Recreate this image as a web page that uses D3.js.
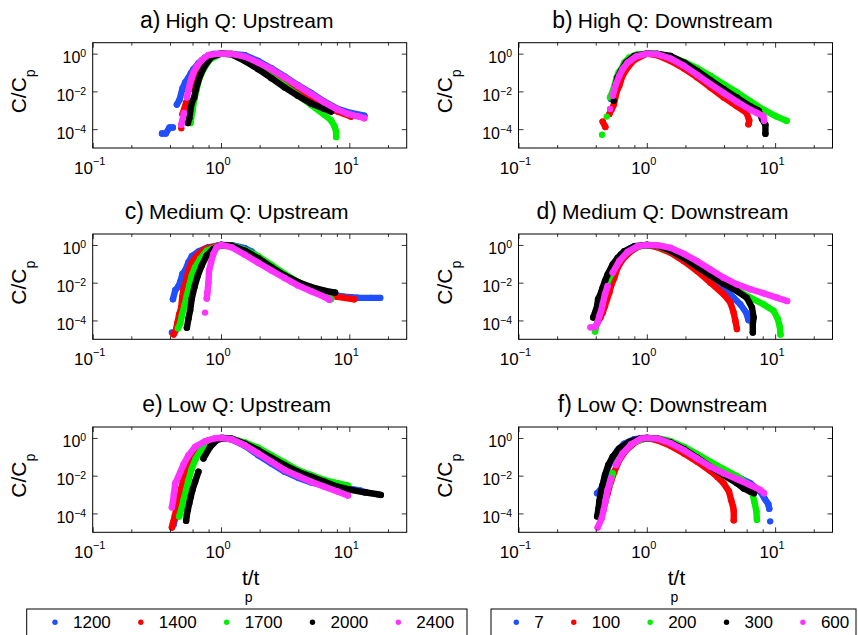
<!DOCTYPE html>
<html>
<head>
<meta charset="utf-8">
<script src="https://cdn.jsdelivr.net/npm/d3@7"></script>
<style>
body { margin: 0; background: #fff; }
svg { display: block; font-family: "Liberation Sans", Arial, Helvetica, sans-serif; }
</style>
</head>
<body>
<svg id="chart" width="858" height="635"></svg>
<script>
// legend labels and colours (plot order: blue, red, green, black, magenta)
var upLabels = [1200, 1400, 1700, 2000, 2400];
var downLabels = [7, 100, 200, 300, 600];
var seriesColors = ['#1f4fff', '#ff0000', '#00ee00', '#000000', '#ff33ff'];

var panelTags = ['a)', 'b)', 'c)', 'd)', 'e)', 'f)'];
var panelNames = ['High Q: Upstream', 'High Q: Downstream', 'Medium Q: Upstream',
                  'Medium Q: Downstream', 'Low Q: Upstream', 'Low Q: Downstream'];

var xMajor = [0.1, 1, 10];
var xMinor = [0.2, 0.4, 0.6, 0.8, 2, 4, 6, 8, 20];
var xExp = ['\u22121', '0', '1'];
var yMajor = [1e-4, 1e-2, 1];
var yExp = ['\u22124', '\u22122', '0'];

// a) High Q upstream  [t/tp, C/Cp]
var highUp1200 = [[0.347,5.9e-5],[0.372,5.9e-5],[0.397,1.23e-4],[0.421,1.23e-4],[0.453,0.002],[0.475,0.0036],[0.501,0.0144],[0.526,0.0298],[0.552,0.048],[0.582,0.092],[0.61,0.15],[0.667,0.31],[0.751,0.62],[0.872,0.97],[1.0,1.0],[1.21,0.97],[1.535,0.82],[1.95,0.41],[2.47,0.169],[3.13,0.062],[3.97,0.0216],[5.04,0.0082],[6.4,0.00286],[8.1,0.00118],[10.3,7.2e-4],[13.1,5.2e-4]];
var highUp1400 = [[0.49,1.1e-4],[0.501,6.2e-4],[0.535,0.0026],[0.575,0.0133],[0.61,0.036],[0.636,0.072],[0.675,0.162],[0.751,0.43],[0.872,0.85],[1.0,1.0],[1.21,0.97],[1.535,0.59],[1.95,0.243],[2.47,0.082],[3.13,0.0243],[3.97,0.0082],[5.04,0.0032],[6.4,0.00156],[8.1,8.5e-4],[10.3,4.6e-4]];
var highUp1700 = [[0.579,2.1e-4],[0.599,9.6e-4],[0.621,0.004],[0.647,0.0133],[0.675,0.0446],[0.73,0.15],[0.822,0.5],[1.0,1.0],[1.21,0.92],[1.535,0.43],[1.95,0.162],[2.47,0.057],[3.13,0.0199],[3.97,0.0064],[5.04,0.0019],[6.4,5.7e-4],[7.21,2.9e-4],[7.66,1.44e-4],[7.9,6.9e-5],[7.9,3.8e-5]];
var highUp2000 = [[0.552,2.1e-4],[0.566,3.8e-4],[0.582,0.00144],[0.596,0.00286],[0.618,0.0048],[0.636,0.0122],[0.66,0.0298],[0.688,0.072],[0.751,0.243],[0.847,0.695],[1.0,1.0],[1.21,0.92],[1.535,0.41],[1.95,0.15],[2.47,0.05],[3.13,0.0163],[3.97,0.0059],[5.04,0.0023],[6.4,0.00118],[7.21,8.5e-4]];
var highUp2400 = [[0.49,1.7e-4],[0.514,7.2e-4],[0.542,0.0048],[0.558,0.0117],[0.575,0.0298],[0.592,0.055],[0.61,0.1],[0.647,0.207],[0.708,0.46],[0.798,0.85],[0.98,1.0],[1.21,0.96],[1.535,0.695],[1.95,0.336],[2.47,0.15],[3.13,0.055],[3.97,0.0199],[5.04,0.0072],[6.4,0.0026],[8.1,0.00108],[9.75,6.4e-4],[11.6,4.8e-4],[13.1,3.8e-4]];

// b) High Q downstream
var highDown7 = [[0.526,0.004],[0.558,0.0133],[0.592,0.0446],[0.647,0.15],[0.73,0.41],[0.847,0.82],[1.0,1.0],[1.21,0.96],[1.535,0.59],[1.95,0.243],[2.47,0.082],[3.13,0.0243],[3.97,0.0072],[4.6,0.0026],[5.35,0.0015],[6.4,0.00108]];
var highDown100 = [[0.453,2.5e-4],[0.475,1.3e-4],[0.511,6.4e-4],[0.535,0.00118],[0.555,0.0021],[0.582,0.0096],[0.61,0.0199],[0.647,0.0668],[0.708,0.183],[0.798,0.46],[1.0,1.0],[1.21,0.82],[1.535,0.41],[1.95,0.162],[2.47,0.055],[3.13,0.0163],[3.97,0.0048],[5.04,0.00162],[6.0,7.2e-4],[6.28,2.9e-4],[6.2,1.8e-4]];
var highDown200 = [[0.448,5e-5],[0.487,4.6e-4],[0.517,0.0048],[0.552,0.0144],[0.582,0.055],[0.603,0.1],[0.636,0.162],[0.667,0.336],[0.73,0.62],[0.847,0.92],[1.0,1.0],[1.21,0.97],[1.535,0.695],[1.95,0.365],[2.47,0.169],[3.13,0.0668],[3.97,0.0243],[5.04,0.0089],[6.4,0.003],[8.1,0.00108],[10.3,4.6e-4],[12.3,2.8e-4]];
var highDown300 = [[0.552,0.0032],[0.569,0.0199],[0.592,0.055],[0.628,0.122],[0.688,0.336],[0.798,0.75],[1.0,1.0],[1.21,0.97],[1.535,0.75],[1.95,0.336],[2.47,0.122],[3.13,0.039],[3.97,0.0133],[5.04,0.0047],[6.4,0.00162],[7.44,9.6e-4],[7.9,3.5e-4],[8.4,1.7e-4],[8.4,5.7e-5]];
var highDown600 = [[0.517,0.00118],[0.542,0.0059],[0.575,0.0243],[0.61,0.0668],[0.647,0.15],[0.708,0.336],[0.822,0.695],[1.0,1.0],[1.21,0.92],[1.535,0.545],[1.95,0.224],[2.47,0.075],[3.13,0.0243],[3.97,0.0082],[5.04,0.00286],[6.4,0.00108],[7.21,7.2e-4],[8.1,4.8e-4],[8.2,2.8e-4]];

// c) Medium Q upstream
var medUp1200 = [[0.414,2.3e-5],[0.422,0.00133],[0.44,0.004],[0.462,0.0059],[0.481,0.0109],[0.501,0.0298],[0.526,0.0446],[0.558,0.122],[0.592,0.253],[0.667,0.446],[0.798,0.75],[1.0,1.0],[1.21,0.97],[1.535,0.67],[1.73,0.446],[1.95,0.233],[2.33,0.089],[2.78,0.032],[3.53,0.0117],[4.48,0.0057],[5.69,0.0032],[7.21,0.0023],[9.15,0.00183],[11.6,0.0016],[14.7,0.00157],[17.4,0.00157]];
var medUp1400 = [[0.427,1.8e-5],[0.446,3.2e-5],[0.456,6.9e-5],[0.472,2.1e-4],[0.488,4.3e-4],[0.499,0.00177],[0.511,0.0048],[0.535,0.0133],[0.558,0.0446],[0.592,0.122],[0.647,0.275],[0.751,0.62],[1.0,1.0],[1.21,0.92],[1.535,0.5],[1.95,0.198],[2.47,0.0668],[3.13,0.0216],[3.97,0.0089],[5.04,0.0044],[6.4,0.0026],[8.1,0.00177],[10.9,0.00133]];
var medUp1700 = [[0.462,3.8e-5],[0.481,6.9e-5],[0.495,1.76e-4],[0.52,6.4e-4],[0.542,0.0021],[0.566,0.0072],[0.592,0.0243],[0.628,0.0668],[0.688,0.183],[0.774,0.5],[1.0,1.0],[1.21,0.92],[1.535,0.545],[1.95,0.253],[2.47,0.0886],[3.13,0.0298],[3.97,0.0109],[5.04,0.0048],[6.4,0.0021],[7.21,0.00133]];
var medUp2000 = [[0.542,4.1e-5],[0.558,1.27e-4],[0.575,3.5e-4],[0.592,0.00144],[0.621,0.0059],[0.66,0.0243],[0.708,0.082],[0.774,0.275],[0.872,0.62],[1.0,1.0],[1.21,0.92],[1.535,0.5],[1.95,0.198],[2.47,0.0668],[3.13,0.0243],[3.97,0.0109],[5.04,0.0059],[6.4,0.0038],[7.75,0.003]];
var medUp2400 = [[0.751,2.6e-4],[0.774,0.00144],[0.783,0.00286],[0.798,0.01],[0.807,0.0446],[0.837,0.122],[0.872,0.336],[0.926,0.75],[1.0,1.0],[1.21,0.75],[1.535,0.3],[1.95,0.113],[2.47,0.0446],[3.13,0.0176],[3.97,0.0072],[5.04,0.0035],[6.4,0.00177],[6.98,0.00126]];

// d) Medium Q downstream
var medDown7 = [[0.414,4.8e-4],[0.44,0.00243],[0.481,0.0122],[0.542,0.075],[0.628,0.31],[0.751,0.695],[1.0,1.0],[1.21,0.85],[1.535,0.46],[1.95,0.19],[2.47,0.062],[3.13,0.02],[3.97,0.0059],[4.74,0.00162],[5.35,7.2e-4],[5.95,2.6e-4],[6.2,1.04e-4]];
var medDown100 = [[0.414,7.9e-5],[0.435,1.44e-4],[0.453,2.6e-4],[0.472,5.9e-4],[0.49,0.00133],[0.511,0.003],[0.526,0.0067],[0.558,0.0183],[0.592,0.062],[0.647,0.169],[0.751,0.46],[0.872,0.85],[1.0,1.0],[1.21,0.75],[1.535,0.38],[1.95,0.138],[2.47,0.041],[3.13,0.01],[3.97,0.00243],[4.48,8.9e-4],[4.75,2.6e-4],[4.9,9.6e-5],[5.04,3.5e-5]];
var medDown200 = [[0.395,2.6e-5],[0.407,6.4e-5],[0.427,3.2e-4],[0.453,0.00162],[0.481,0.0067],[0.526,0.0275],[0.592,0.113],[0.667,0.31],[0.798,0.75],[1.0,1.0],[1.21,0.89],[1.535,0.5],[1.95,0.207],[2.47,0.075],[3.13,0.0275],[3.97,0.01],[5.04,0.004],[6.4,0.00162],[8.1,7.2e-4],[9.75,3.2e-4],[10.5,1.18e-4],[10.9,4.3e-5],[11.0,1.8e-5]];
var medDown300 = [[0.382,1.44e-4],[0.395,2.6e-4],[0.41,5.9e-4],[0.417,0.00133],[0.44,0.003],[0.453,0.0055],[0.472,0.0122],[0.495,0.0275],[0.542,0.092],[0.592,0.207],[0.667,0.46],[0.798,0.85],[1.0,1.0],[1.21,0.92],[1.535,0.5],[1.95,0.207],[2.47,0.07],[3.13,0.0243],[3.97,0.0089],[5.04,0.0036],[6.0,0.00162],[6.6,4.8e-4],[6.8,1.44e-4],[6.7,6.4e-5],[6.7,2.3e-5]];
var medDown600 = [[0.364,4.3e-5],[0.395,4.3e-5],[0.414,7.9e-5],[0.427,1.76e-4],[0.44,3.2e-4],[0.453,7.2e-4],[0.472,0.00243],[0.495,0.0067],[0.542,0.0336],[0.61,0.138],[0.708,0.43],[0.847,0.85],[1.0,1.0],[1.21,0.97],[1.535,0.695],[1.95,0.336],[2.47,0.138],[3.13,0.05],[3.97,0.0183],[5.04,0.0082],[6.4,0.0045],[8.1,0.00275],[10.3,0.00162],[12.4,0.00108]];

// e) Low Q upstream
var lowUp1200 = [[0.427,2.5e-5],[0.44,5.7e-5],[0.462,2.3e-4],[0.481,7.9e-4],[0.511,0.004],[0.542,0.0163],[0.592,0.082],[0.667,0.275],[0.798,0.67],[1.0,1.0],[1.21,0.85],[1.535,0.38],[1.95,0.122],[2.47,0.0446],[3.13,0.0163],[3.97,0.0079],[5.04,0.0044],[6.4,0.003],[8.1,0.00234],[10.3,0.002],[12.3,0.0016],[13.5,0.00133]];
var lowUp1400 = [[0.414,1.8e-5],[0.422,3.1e-5],[0.435,6.9e-5],[0.453,2.3e-4],[0.472,6.4e-4],[0.49,0.0021],[0.511,0.0072],[0.535,0.0199],[0.558,0.055],[0.592,0.122],[0.667,0.336],[0.798,0.75],[1.0,1.0],[1.21,0.85],[1.535,0.446],[1.95,0.183],[2.47,0.075],[3.13,0.0298],[3.97,0.0133],[5.04,0.0067],[6.4,0.004],[8.1,0.00234],[10.0,0.00177]];
var lowUp1700 = [[0.472,6.9e-5],[0.49,1.6e-4],[0.511,5.2e-4],[0.535,0.00177],[0.558,0.0059],[0.592,0.0243],[0.636,0.082],[0.708,0.253],[0.822,0.62],[1.0,1.0],[1.21,0.92],[1.535,0.57],[1.95,0.3],[2.47,0.122],[3.13,0.05],[3.97,0.0199],[5.04,0.0109],[6.4,0.0059],[8.1,0.004],[9.75,0.003]];
var lowUp2000 = [[0.535,4.1e-5],[0.542,8.5e-5],[0.552,1.6e-4],[0.566,3.5e-4],[0.582,7.9e-4],[0.599,0.00177],[0.628,0.0048],[0.667,0.0163],[0.73,0.082],[0.822,0.336],[0.926,0.75],[1.04,1.0],[1.21,0.92],[1.535,0.5],[1.95,0.224],[2.47,0.089],[3.13,0.0365],[3.97,0.0163],[5.04,0.0089],[6.4,0.0048],[8.1,0.0026],[10.3,0.00177],[13.1,0.00132],[16.6,0.00104],[17.6,9.6e-4]];
var lowUp2400 = [[0.414,2.1e-4],[0.422,4.3e-4],[0.43,0.00118],[0.44,0.004],[0.462,0.0079],[0.481,0.015],[0.511,0.04],[0.558,0.122],[0.628,0.336],[0.751,0.67],[0.898,0.97],[1.0,1.0],[1.21,0.85],[1.535,0.41],[1.95,0.15],[2.47,0.055],[3.13,0.0199],[3.97,0.0096],[5.04,0.0048],[6.4,0.0026],[8.1,0.00144],[9.75,8.9e-4]];

// f) Low Q downstream
var lowDown7 = [[0.41,0.00118],[0.435,0.00177],[0.453,0.0032],[0.472,0.0089],[0.495,0.0243],[0.542,0.082],[0.592,0.224],[0.667,0.5],[0.798,0.85],[1.0,1.0],[1.21,0.92],[1.535,0.57],[1.95,0.275],[2.47,0.122],[3.13,0.05],[3.97,0.0199],[5.04,0.0089],[6.4,0.004],[7.66,0.00144],[8.3,5.9e-4],[8.85,3.1e-4],[9.0,1.76e-4],[9.15,3.8e-5]];
var lowDown100 = [[0.453,1.27e-4],[0.472,3.5e-4],[0.495,0.00118],[0.526,0.0048],[0.558,0.0163],[0.61,0.0668],[0.688,0.224],[0.822,0.62],[1.0,1.0],[1.21,0.75],[1.535,0.38],[1.95,0.15],[2.47,0.055],[3.13,0.0176],[3.53,0.0089],[3.97,0.004],[4.37,0.00144],[4.54,5.2e-4],[4.7,2.3e-4],[4.76,1.4e-4],[4.76,4.3e-5]];
var lowDown200 = [[0.44,6.9e-5],[0.462,2.3e-4],[0.481,6.9e-4],[0.511,0.0032],[0.542,0.0133],[0.592,0.0668],[0.667,0.224],[0.798,0.62],[1.0,1.0],[1.21,0.97],[1.535,0.67],[1.95,0.336],[2.47,0.138],[3.13,0.055],[3.97,0.0224],[5.04,0.0096],[6.0,0.004],[6.6,0.00144],[6.88,4.3e-4],[7.15,1.27e-4],[7.21,4.6e-5]];
var lowDown300 = [[0.41,6.9e-5],[0.42,1.76e-4],[0.427,4.6e-4],[0.44,0.00144],[0.453,0.0032],[0.472,0.0109],[0.501,0.0365],[0.542,0.1],[0.61,0.275],[0.73,0.62],[0.898,0.97],[1.0,1.0],[1.21,0.92],[1.535,0.57],[1.95,0.253],[2.47,0.089],[3.13,0.0298],[3.97,0.0109],[5.04,0.004],[5.69,0.0021],[6.4,0.00144],[6.85,0.00118]];
var lowDown600 = [[0.414,1.8e-5],[0.446,5.7e-5],[0.462,1.6e-4],[0.475,4.3e-4],[0.495,0.00177],[0.526,0.0072],[0.575,0.0365],[0.647,0.15],[0.751,0.446],[0.898,0.92],[1.0,1.0],[1.21,0.92],[1.535,0.52],[1.95,0.224],[2.47,0.082],[3.13,0.0298],[3.97,0.0133],[5.04,0.0067],[6.4,0.0032],[7.66,0.00177],[8.2,0.00118]];

var panelSeries = [
    [highUp1200, highUp1400, highUp1700, highUp2000, highUp2400],
    [highDown7, highDown100, highDown200, highDown300, highDown600],
    [medUp1200, medUp1400, medUp1700, medUp2000, medUp2400],
    [medDown7, medDown100, medDown200, medDown300, medDown600],
    [lowUp1200, lowUp1400, lowUp1700, lowUp2000, lowUp2400],
    [lowDown7, lowDown100, lowDown200, lowDown300, lowDown600]
];

// layout
var colLeft = [92.7, 518.5];
var rowTop = [42.7, 234, 427];
var plotW = 314, plotH = 105.3;

var svg = d3.select('#chart');

var x = d3.scaleLog().domain([0.1, 28]).range([0, plotW]);
var y = d3.scaleLog().domain([1e-5, 3.8]).range([plotH, 0]);

var line = d3.line()
    .x(function (d) { return x(d[0]); })
    .y(function (d) { return y(d[1]); });

// split a series where the markers stop touching (sparse leading points)
function denseRuns(pts) {
    var out = [], cur = [pts[0]];
    for (var k = 1; k < pts.length; ++k) {
        var dx = x(pts[k][0]) - x(pts[k - 1][0]);
        var dy = y(pts[k][1]) - y(pts[k - 1][1]);
        if (Math.abs(dy) <= 12.5 && Math.hypot(dx, dy) <= 22) {
            cur.push(pts[k]);
        } else {
            out.push(cur);
            cur = [pts[k]];
        }
    }
    out.push(cur);
    return out;
}

function inwardTicks(g, axis, values, size, transform) {
    g.append('g')
     .attr('transform', transform)
     .call(axis.tickValues(values).tickSize(-size).tickFormat(''))
     .call(function (s) { s.select('.domain').remove(); })
     .selectAll('line').attr('stroke', '#000').attr('stroke-width', 0.8);
}

function drawPanel(i) {
    var col = i % 2, row = Math.floor(i / 2);
    var left = colLeft[col], top = rowTop[row];
    var g = svg.append('g').attr('transform', 'translate(' + left + ',' + top + ')');

    svg.append('clipPath').attr('id', 'clip' + i)
       .append('rect').attr('width', plotW).attr('height', plotH);

    var plot = g.append('g').attr('clip-path', 'url(#clip' + i + ')');
    panelSeries[i].forEach(function (pts, s) {
        var sg = plot.append('g');
        denseRuns(pts).forEach(function (run) {
            if (run.length > 1) {
                sg.append('path')
                  .attr('d', line(run))
                  .attr('fill', 'none')
                  .attr('stroke', seriesColors[s])
                  .attr('stroke-width', 6.4)
                  .attr('stroke-linecap', 'round')
                  .attr('stroke-linejoin', 'round');
            }
        });
        sg.selectAll('circle').data(pts).enter().append('circle')
          .attr('cx', function (d) { return x(d[0]); })
          .attr('cy', function (d) { return y(d[1]); })
          .attr('r', 3.2)
          .attr('fill', seriesColors[s]);
    });

    // frame and inward ticks on all four sides
    g.append('rect').attr('width', plotW).attr('height', plotH)
     .attr('fill', 'none').attr('stroke', '#000').attr('stroke-width', 1);
    inwardTicks(g, d3.axisBottom(x), xMajor, 5, 'translate(0,' + plotH + ')');
    inwardTicks(g, d3.axisBottom(x), xMinor, 3, 'translate(0,' + plotH + ')');
    inwardTicks(g, d3.axisTop(x), xMajor, 5, 'translate(0,0)');
    inwardTicks(g, d3.axisTop(x), xMinor, 3, 'translate(0,0)');
    inwardTicks(g, d3.axisLeft(y), yMajor, 5, 'translate(0,0)');
    inwardTicks(g, d3.axisRight(y), yMajor, 5, 'translate(' + plotW + ',0)');

    // tick labels 10^n
    xMajor.forEach(function (v, k) {
        var t = g.append('text')
                 .attr('x', x(v) - 3)
                 .attr('y', plotH + 25.6)
                 .attr('text-anchor', 'middle')
                 .style('font-size', '17px');
        t.append('tspan').text('10');
        t.append('tspan').attr('dy', -9).style('font-size', '11px').text(xExp[k]);
    });
    yMajor.forEach(function (v, k) {
        var t = g.append('text')
                 .attr('x', -6.5)
                 .attr('y', y(v) + 9.5)
                 .attr('text-anchor', 'end')
                 .style('font-size', '16px');
        t.append('tspan').text('10');
        t.append('tspan').attr('dy', -6).style('font-size', '10.5px').text(yExp[k]);
    });

    // title
    var title = g.append('text')
                 .attr('x', 144)
                 .attr('y', -14.7)
                 .attr('text-anchor', 'middle');
    title.append('tspan').style('font-size', '23px').text(panelTags[i]);
    title.append('tspan').attr('dx', 5).style('font-size', '21px').text(panelNames[i]);

    // y label C/C_p
    var yl = g.append('text')
              .attr('transform', 'translate(' + (-66.5) + ',' + (plotH / 2 - 4) + ') rotate(-90)')
              .attr('text-anchor', 'middle')
              .style('font-size', '21px');
    yl.append('tspan').text('C/C');
    yl.append('tspan').attr('dy', 9).style('font-size', '14px').text('p');

    // x label t/t_p on bottom row
    if (row === 2) {
        g.append('text')
         .attr('x', plotW / 2 + 1)
         .attr('y', plotH + 52.3)
         .attr('text-anchor', 'middle')
         .style('font-size', '21px')
         .text('t/t');
        g.append('text')
         .attr('x', plotW / 2 - 1)
         .attr('y', plotH + 70)
         .attr('text-anchor', 'middle')
         .style('font-size', '14px')
         .text('p');
    }
}

for (var i = 0; i < 6; ++i) drawPanel(i);

// horizontal legends
function drawLegend(labels, boxLeft, boxRight, firstDot) {
    var lg = svg.append('g');
    lg.append('rect')
      .attr('x', boxLeft).attr('y', 609)
      .attr('width', boxRight - boxLeft).attr('height', 40)
      .attr('fill', '#fff').attr('stroke', '#000').attr('stroke-width', 1);
    var cx = firstDot;
    labels.forEach(function (lab, s) {
        lg.append('circle').attr('cx', cx).attr('cy', 622.3).attr('r', 2.7)
          .attr('fill', seriesColors[s]);
        var t = lg.append('text')
                  .attr('x', cx + 18).attr('y', 627.5)
                  .style('font-size', '17px')
                  .text(lab);
        cx += 18 + t.node().getComputedTextLength() + 30;
    });
}
drawLegend(upLabels, 26.7, 467, 55);
drawLegend(downLabels, 491, 856, 516.3);
</script>
</body>
</html>
